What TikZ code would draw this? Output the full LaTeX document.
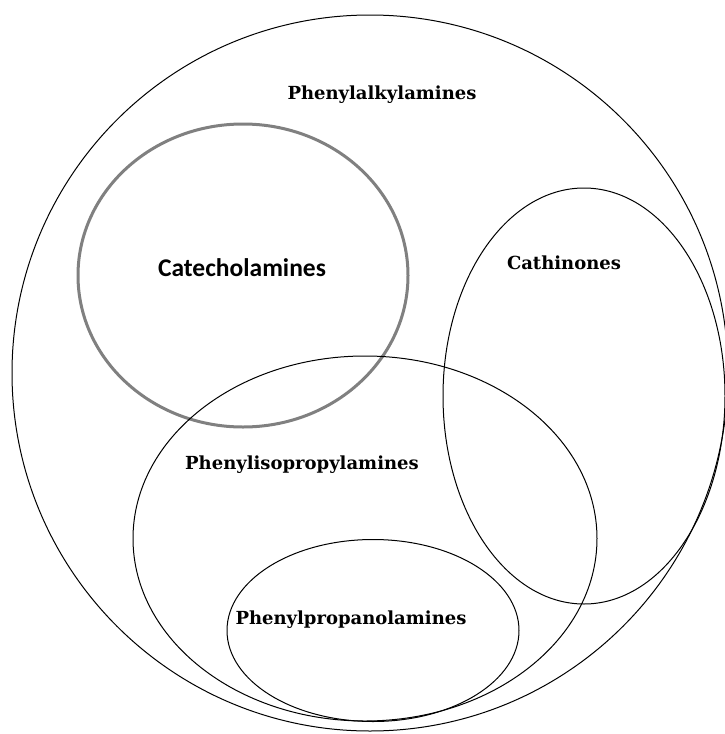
\documentclass[tikz,border=0pt]{standalone}
\usepackage{fontspec}
\setmainfont{DejaVu Serif}
\newfontfamily\calib{Carlito}
\begin{document}
\begin{tikzpicture}[x=1pt,y=-1pt,
  setline/.style={draw=black,line width=1pt},
  catline/.style={draw=black!50,line width=3pt},
  serlabel/.style={font=\fontsize{18}{21}\selectfont\bfseries,inner sep=0pt},
  catlabel/.style={font=\calib\fontsize{25.5}{29}\selectfont\bfseries,inner sep=0pt}]
\useasboundingbox (0,0) rectangle (725,734);
\clip (0,0) rectangle (725,734);
\fill[white] (0,0) rectangle (725,734);
% outer set
\draw[setline] (370,373) circle [radius=358];
% catecholamines
\draw[catline] (243,275.5) ellipse [x radius=165, y radius=151.5];
% cathinones
\draw[setline] (584,396) ellipse [x radius=141, y radius=208];
% phenylisopropylamines
\draw[setline] (365,538.5) ellipse [x radius=232, y radius=182.5];
% phenylpropanolamines
\draw[setline] (373,630.5) ellipse [x radius=146, y radius=91];
\node[serlabel] (alk) at (382,95) {Phenylalkylamines};
\node[catlabel] (cat) at (242,268) {Catecholamines};
\node[serlabel] (cath) at (564,263) {Cathinones};
\node[serlabel] (iso) at (302,465) {Phenylisopropylamines};
\node[serlabel] (prop) at (351,620) {Phenylpropanolamines};
\end{tikzpicture}
\end{document}
